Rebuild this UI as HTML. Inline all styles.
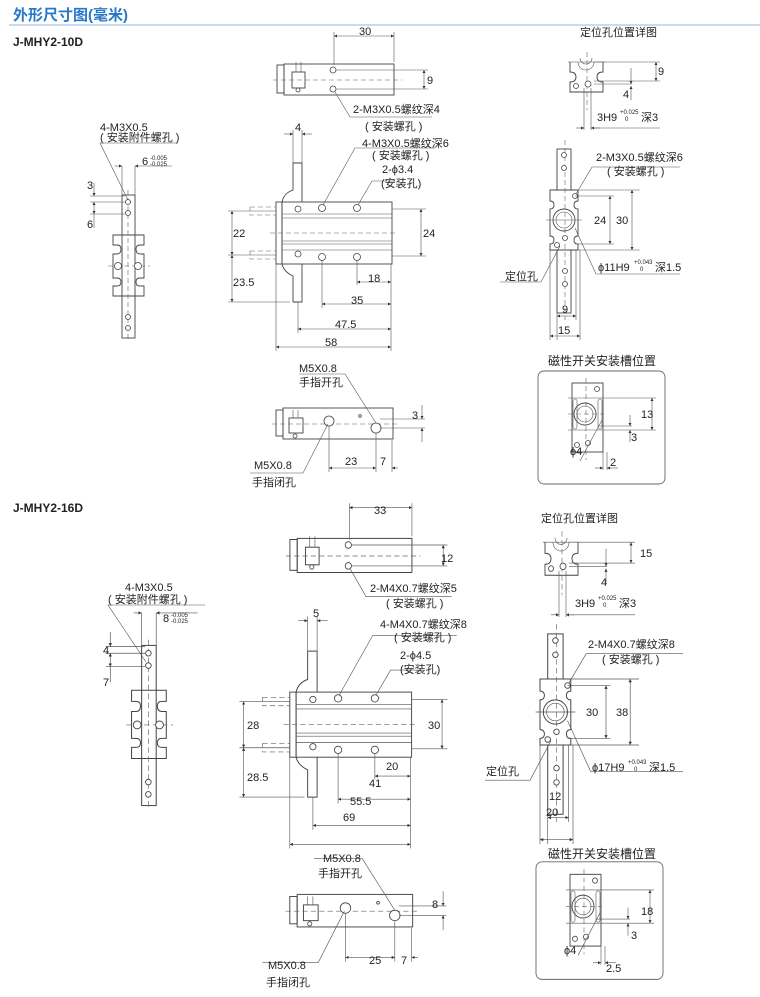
<!DOCTYPE html>
<html><head><meta charset="utf-8">
<style>
html,body{margin:0;padding:0;background:#fff;}
svg{display:block;}
text{font-family:"Liberation Sans","Noto Sans CJK SC",sans-serif;fill:#222;font-size:11px;}
.o{fill:none;stroke:#444;stroke-width:0.9;}
.d{fill:none;stroke:#555;stroke-width:0.6;}
.c{fill:none;stroke:#666;stroke-width:0.6;stroke-dasharray:5 3;}
.h{fill:#fff;stroke:#444;stroke-width:0.8;}
.sm{font-size:6px;}
</style></head><body>
<svg width="760" height="997" viewBox="0 0 760 997" xmlns="http://www.w3.org/2000/svg">
<defs>
<marker id="a" viewBox="0 0 6 6" refX="6" refY="3" markerWidth="5" markerHeight="5" orient="auto-start-reverse"><path d="M0,0L6,3L0,6z" fill="#333"/></marker>

<g id="A">
<rect class="o" x="277" y="65" width="7" height="28"/>
<rect class="o" x="284" y="64" width="110" height="31"/>
<rect class="o" x="292" y="72" width="13" height="16"/>
<line class="d" x1="296" y1="62" x2="296" y2="72"/><line class="d" x1="301" y1="62" x2="301" y2="72"/>
<line class="c" x1="273" y1="80" x2="402" y2="80"/>
<circle class="h" cx="333" cy="70" r="3"/><circle class="h" cx="333" cy="89" r="3"/><circle class="h" cx="298" cy="90" r="2"/>
<line class="d" x1="334" y1="32" x2="334" y2="65"/><line class="d" x1="394" y1="32" x2="394" y2="62"/>
<line class="d" x1="334" y1="36" x2="394" y2="36" marker-start="url(#a)" marker-end="url(#a)"/>
<line class="d" x1="336" y1="70" x2="428" y2="70"/><line class="d" x1="336" y1="89" x2="428" y2="89"/>
<line class="d" x1="424" y1="70" x2="424" y2="89" marker-start="url(#a)" marker-end="url(#a)"/>
<polyline class="d" points="335,92 350,117 432,117"/>
</g>

<g id="B">
<rect class="o" x="276" y="202" width="6" height="62"/>
<rect class="o" x="282" y="202" width="110" height="62"/>
<line class="d" x1="282" y1="214" x2="392" y2="214"/><line class="d" x1="282" y1="218" x2="392" y2="218"/>
<line class="d" x1="282" y1="241" x2="392" y2="241"/><line class="d" x1="282" y1="244" x2="392" y2="244"/><line class="d" x1="282" y1="250" x2="392" y2="250"/>
<path class="o" d="M293,163 L302,163 L302,202 M293,163 L293,190 Q284,193 282,202"/>
<path class="o" d="M302,264 L302,302 L293,302 L293,276 Q284,272 282,264"/>
<rect class="c" x="250" y="207" width="26" height="8"/><rect class="c" x="250" y="251" width="26" height="8"/>
<line class="c" x1="270" y1="233" x2="398" y2="233"/>
<circle class="h" cx="298" cy="209" r="3"/><circle class="h" cx="322" cy="208" r="3.5"/><circle class="h" cx="357" cy="208" r="3.5"/>
<circle class="h" cx="298" cy="254" r="3"/><circle class="h" cx="322" cy="257" r="3.5"/><circle class="h" cx="357" cy="257" r="3.5"/>
<line class="d" x1="293" y1="130" x2="293" y2="163"/><line class="d" x1="302" y1="130" x2="302" y2="163"/>
<line class="d" x1="284" y1="134" x2="293" y2="134" marker-end="url(#a)"/><line class="d" x1="312" y1="134" x2="302" y2="134" marker-end="url(#a)"/>
<line class="d" x1="228" y1="211" x2="276" y2="211"/><line class="d" x1="228" y1="255" x2="276" y2="255"/><line class="d" x1="228" y1="302" x2="290" y2="302"/>
<line class="d" x1="232" y1="211" x2="232" y2="255" marker-start="url(#a)" marker-end="url(#a)"/>
<line class="d" x1="232" y1="255" x2="232" y2="302" marker-start="url(#a)" marker-end="url(#a)"/>
<line class="d" x1="392" y1="209" x2="426" y2="209"/><line class="d" x1="392" y1="256" x2="426" y2="256"/>
<line class="d" x1="421" y1="209" x2="421" y2="256" marker-start="url(#a)" marker-end="url(#a)"/>
<line class="d" x1="357" y1="260" x2="357" y2="285"/><line class="d" x1="322" y1="260" x2="322" y2="308"/><line class="d" x1="298" y1="302" x2="298" y2="333"/><line class="d" x1="276" y1="264" x2="276" y2="351"/><line class="d" x1="391" y1="264" x2="391" y2="351"/>
<line class="d" x1="357" y1="282" x2="391" y2="282" marker-start="url(#a)" marker-end="url(#a)"/>
<line class="d" x1="322" y1="304" x2="391" y2="304" marker-start="url(#a)" marker-end="url(#a)"/>
<line class="d" x1="298" y1="329" x2="391" y2="329" marker-start="url(#a)" marker-end="url(#a)"/>
<line class="d" x1="276" y1="347" x2="391" y2="347" marker-start="url(#a)" marker-end="url(#a)"/>
<polyline class="d" points="323,205 355,148 435,148"/>
<polyline class="d" points="358,205 372,181 395,181"/>
</g>

<g id="C">
<rect class="o" x="122" y="195" width="13" height="143"/>
<path class="o" d="M113,235 H144 V245 H140 Q136,245 136,249 Q136,254 140,254 H144 V278 H140 Q136,278 136,282 Q136,286 140,286 H144 V296 H113 V286 H117 Q121,286 121,282 Q121,278 117,278 H113 V254 H117 Q121,254 121,249 Q121,245 117,245 H113 Z"/>
<line class="c" x1="128" y1="190" x2="128" y2="342"/>
<line class="c" x1="108" y1="266" x2="150" y2="266"/>
<circle class="h" cx="128" cy="202" r="2.5"/><circle class="h" cx="128" cy="213" r="2.5"/>
<circle class="h" cx="118" cy="266" r="3.5"/><circle class="h" cx="138" cy="266" r="3.5"/>
<circle class="h" cx="128" cy="317" r="2.5"/><circle class="h" cx="128" cy="328" r="2.5"/>
<line class="d" x1="122" y1="166" x2="122" y2="195"/><line class="d" x1="135" y1="166" x2="135" y2="195"/>
<line class="d" x1="115" y1="166" x2="122" y2="166" marker-end="url(#a)"/><line class="d" x1="172" y1="166" x2="135" y2="166" marker-end="url(#a)"/>
<line class="d" x1="90" y1="196" x2="125" y2="196"/><line class="d" x1="90" y1="202" x2="125" y2="202"/><line class="d" x1="90" y1="214" x2="125" y2="214"/>
<line class="d" x1="94" y1="183" x2="94" y2="196" marker-end="url(#a)"/><line class="d" x1="94" y1="202" x2="94" y2="214" marker-start="url(#a)" marker-end="url(#a)"/><line class="d" x1="94" y1="214" x2="94" y2="228"/>
</g>

<g id="D">
<rect class="o" x="276" y="410" width="7" height="26"/>
<rect class="o" x="283" y="408" width="110" height="31"/>
<rect class="o" x="289" y="418" width="14" height="15"/>
<line class="d" x1="293" y1="410" x2="293" y2="418"/><line class="d" x1="298" y1="410" x2="298" y2="418"/><circle class="h" cx="295" cy="436" r="2"/>
<line class="c" x1="272" y1="424" x2="398" y2="424"/>
<circle class="h" cx="329" cy="421" r="5"/><circle class="h" cx="376" cy="428" r="5"/><circle class="h" cx="360" cy="416" r="1.3"/>
<line class="d" x1="380" y1="419" x2="425" y2="419"/><line class="d" x1="380" y1="428" x2="425" y2="428"/>
<line class="d" x1="422" y1="405" x2="422" y2="419" marker-end="url(#a)"/><line class="d" x1="422" y1="442" x2="422" y2="428" marker-end="url(#a)"/>
<line class="d" x1="329" y1="426" x2="329" y2="472"/><line class="d" x1="376" y1="433" x2="376" y2="472"/><line class="d" x1="392" y1="440" x2="392" y2="472"/>
<line class="d" x1="329" y1="468" x2="376" y2="468" marker-start="url(#a)" marker-end="url(#a)"/>
<line class="d" x1="398" y1="468" x2="392" y2="468" marker-end="url(#a)"/>
<polyline class="d" points="299,374 345,374 376,423"/>
<polyline class="d" points="250,473 303,473 328,424"/>
</g>

<g id="E">
<path class="o" d="M570,62 V72 Q576,72 576,77 Q576,82 570,82 V92 H603 V82 Q597,82 597,77 Q597,72 603,72 V62"/>
<line class="d" x1="568" y1="62" x2="605" y2="62"/>
<path class="d" d="M578,62 A8,8 0 0 0 594,62"/><path class="d" d="M580,58 A6,6 0 0 0 592,58"/>
<line class="c" x1="587" y1="52" x2="587" y2="110"/>
<circle class="h" cx="576" cy="86" r="2.5"/><circle class="h" cx="588" cy="84" r="3"/>
<line class="d" x1="584" y1="88" x2="584" y2="130"/><line class="d" x1="591" y1="88" x2="591" y2="130"/>
<line class="d" x1="576" y1="128" x2="584" y2="128" marker-end="url(#a)"/><line class="d" x1="600" y1="128" x2="591" y2="128" marker-end="url(#a)"/><line class="d" x1="591" y1="128" x2="660" y2="128"/>
<line class="d" x1="594" y1="62" x2="660" y2="62"/><line class="d" x1="594" y1="81" x2="660" y2="81"/><line class="d" x1="594" y1="84" x2="632" y2="84"/>
<line class="d" x1="656" y1="62" x2="656" y2="81" marker-start="url(#a)" marker-end="url(#a)"/>
<line class="d" x1="631" y1="68" x2="631" y2="84" marker-end="url(#a)"/><line class="d" x1="631" y1="100" x2="631" y2="86" marker-end="url(#a)"/>
</g>

<g id="F">
<rect class="o" x="557" y="149" width="14" height="41"/>
<rect class="o" x="557" y="250" width="14" height="63"/>
<path class="o" d="M550,190 H578 V201 Q574,201 574,205 Q574,209 578,209 V236 Q574,236 574,240 Q574,244 578,244 V250 H550 V244 Q554,244 554,240 Q554,236 550,236 V209 Q554,209 554,205 Q554,201 550,201 Z"/>
<circle class="o" cx="564" cy="220" r="11"/><circle class="d" cx="564" cy="220" r="8"/>
<line class="c" x1="565" y1="140" x2="565" y2="320"/><line class="d" x1="546" y1="220" x2="582" y2="220"/>
<circle class="h" cx="564" cy="155" r="2.5"/><circle class="h" cx="564" cy="168" r="2.5"/>
<circle class="h" cx="575" cy="196" r="2.5"/><circle class="h" cx="557" cy="245" r="2.5"/><circle class="h" cx="565" cy="238" r="2.5"/>
<circle class="h" cx="565" cy="271" r="2.5"/><circle class="h" cx="565" cy="284" r="2.5"/>
<line class="d" x1="578" y1="190" x2="640" y2="190"/><line class="d" x1="578" y1="250" x2="640" y2="250"/><line class="d" x1="575" y1="196" x2="614" y2="196"/><line class="d" x1="575" y1="244" x2="614" y2="244"/>
<line class="d" x1="610" y1="196" x2="610" y2="244" marker-start="url(#a)" marker-end="url(#a)"/>
<line class="d" x1="632" y1="190" x2="632" y2="250" marker-start="url(#a)" marker-end="url(#a)"/>
<polyline class="d" points="576,194 592,167 680,167"/>
<polyline class="d" points="575,228 596,274 680,274"/>
<polyline class="d" points="560,246 541,282 500,282"/>
<line class="d" x1="557" y1="313" x2="557" y2="340"/><line class="d" x1="576" y1="250" x2="576" y2="320"/><line class="d" x1="550" y1="250" x2="550" y2="340"/><line class="d" x1="580" y1="250" x2="580" y2="340"/>
<line class="d" x1="557" y1="316" x2="576" y2="316" marker-start="url(#a)" marker-end="url(#a)"/>
<line class="d" x1="550" y1="336" x2="580" y2="336" marker-start="url(#a)" marker-end="url(#a)"/>
</g>

<g id="G">
<rect x="538" y="371" width="127" height="113" rx="6" fill="none" stroke="#666" stroke-width="0.9"/>
<rect class="o" x="572" y="383" width="31" height="69"/>
<circle class="o" cx="585" cy="414" r="11"/><circle class="d" cx="585" cy="414" r="8"/>
<rect class="d" x="573" y="399" width="4" height="30" rx="2"/><rect class="d" x="598" y="399" width="4" height="30" rx="2"/>
<line class="c" x1="586" y1="378" x2="586" y2="460"/><line class="c" x1="568" y1="414" x2="604" y2="414"/>
<line class="d" x1="568" y1="398" x2="656" y2="398"/><line class="d" x1="568" y1="430" x2="656" y2="430"/><line class="d" x1="598" y1="426" x2="632" y2="426"/>
<circle class="h" cx="597" cy="389" r="2.5"/><circle class="h" cx="577" cy="445" r="2.5"/><circle class="h" cx="588" cy="443" r="2.5"/>
<line class="d" x1="652" y1="398" x2="652" y2="430" marker-start="url(#a)" marker-end="url(#a)"/>
<line class="d" x1="630" y1="415" x2="630" y2="426" marker-end="url(#a)"/><line class="d" x1="630" y1="442" x2="630" y2="430" marker-end="url(#a)"/>
<line class="d" x1="603" y1="452" x2="603" y2="470"/><line class="d" x1="607" y1="452" x2="607" y2="470"/>
<line class="d" x1="595" y1="468" x2="603" y2="468" marker-end="url(#a)"/><line class="d" x1="618" y1="468" x2="607" y2="468" marker-end="url(#a)"/>
<line class="d" x1="580" y1="461" x2="602" y2="420"/>
</g>
</defs>

<text x="13" y="20" style="font-size:15px;font-weight:bold;fill:#2878c8;">外形尺寸图(毫米)</text>
<line x1="9" y1="25" x2="760" y2="25" stroke="#8fb8e0" stroke-width="1"/>

<text x="13" y="46" style="font-size:12px;font-weight:bold;">J-MHY2-10D</text>
<use href="#A"/><use href="#B"/><use href="#C"/><use href="#D"/><use href="#E"/><use href="#F"/><use href="#G"/>
<polyline class="d" points="178,143 100,143 128,200"/>
<text x="359" y="35">30</text><text x="427" y="84">9</text>
<text x="353" y="113">2-M3X0.5螺纹深4</text><text x="365" y="130">( 安装螺孔 )</text>
<text x="295" y="131">4</text>
<text x="362" y="147">4-M3X0.5螺纹深6</text><text x="372" y="159">( 安装螺孔 )</text>
<text x="382" y="173">2-ϕ3.4</text><text x="381" y="187">(安装孔)</text>
<text x="233" y="237">22</text><text x="423" y="237">24</text><text x="233" y="286">23.5</text>
<text x="368" y="282">18</text><text x="351" y="304">35</text><text x="335" y="328">47.5</text><text x="325" y="346">58</text>
<text x="100" y="131">4-M3X0.5</text><text x="100" y="141">( 安装附件螺孔 )</text>
<text x="142" y="165">6</text><text x="150" y="160" class="sm">-0.005</text><text x="150" y="166" class="sm">-0.025</text>
<text x="87" y="189">3</text><text x="87" y="228">6</text>
<text x="299" y="372">M5X0.8</text><text x="299" y="386">手指开孔</text>
<text x="412" y="419">3</text><text x="345" y="465">23</text><text x="380" y="465">7</text>
<text x="254" y="469">M5X0.8</text><text x="252" y="486">手指闭孔</text>
<text x="580" y="36">定位孔位置详图</text>
<text x="658" y="75">9</text><text x="623" y="98">4</text>
<text x="597" y="121">3H9</text><text x="620" y="114" class="sm">+0.025</text><text x="625" y="121" class="sm">0</text><text x="641" y="121">深3</text>
<text x="596" y="161">2-M3X0.5螺纹深6</text><text x="607" y="175">( 安装螺孔 )</text>
<text x="594" y="224">24</text><text x="616" y="224">30</text>
<text x="505" y="280">定位孔</text>
<text x="598" y="271">ϕ11H9</text><text x="634" y="264" class="sm">+0.043</text><text x="640" y="271" class="sm">0</text><text x="655" y="271">深1.5</text>
<text x="562" y="313">9</text><text x="558" y="334">15</text>
<text x="548" y="365" style="font-size:12px;">磁性开关安装槽位置</text>
<text x="641" y="418">13</text><text x="631" y="441">3</text><text x="570" y="455">ϕ4</text><text x="610" y="466">2</text>

<text x="13" y="512" style="font-size:12px;font-weight:bold;">J-MHY2-16D</text>
<use href="#A" transform="translate(1,468) scale(1.043,1.1)"/>
<use href="#B" transform="translate(0,480) scale(1.05)"/>
<use href="#C" transform="translate(5,427) scale(1.12)"/>
<use href="#D" transform="translate(0,466) scale(1.05)"/>
<use href="#E" transform="translate(-25,474) scale(1,1.1)"/>
<use href="#F" transform="translate(-65,470) scale(1.1)"/>
<use href="#G" transform="translate(-2,476) scale(1,1.04)"/>
<polyline class="d" points="205,605 108,605 146,662"/>
<text x="374" y="514">33</text><text x="441" y="562">12</text>
<text x="370" y="592">2-M4X0.7螺纹深5</text><text x="386" y="607">( 安装螺孔 )</text>
<text x="313" y="617">5</text>
<text x="380" y="628">4-M4X0.7螺纹深8</text><text x="394" y="641">( 安装螺孔 )</text>
<text x="400" y="659">2-ϕ4.5</text><text x="400" y="673">(安装孔)</text>
<text x="247" y="729">28</text><text x="428" y="729">30</text><text x="247" y="781">28.5</text>
<text x="386" y="770">20</text><text x="369" y="787">41</text><text x="350" y="805">55.5</text><text x="343" y="821">69</text>
<text x="125" y="591">4-M3X0.5</text><text x="108" y="603">( 安装附件螺孔 )</text>
<text x="163" y="622">8</text><text x="171" y="617" class="sm">-0.005</text><text x="171" y="623" class="sm">-0.025</text>
<text x="103" y="654">4</text><text x="103" y="686">7</text>
<text x="323" y="862">M5X0.8</text><text x="318" y="877">手指开孔</text>
<text x="432" y="908">8</text><text x="369" y="964">25</text><text x="401" y="964">7</text>
<text x="268" y="969">M5X0.8</text><text x="266" y="986">手指闭孔</text>
<text x="541" y="522">定位孔位置详图</text>
<text x="640" y="557">15</text><text x="601" y="586">4</text>
<text x="575" y="607">3H9</text><text x="598" y="600" class="sm">+0.025</text><text x="603" y="607" class="sm">0</text><text x="619" y="607">深3</text>
<text x="588" y="648">2-M4X0.7螺纹深8</text><text x="602" y="663">( 安装螺孔 )</text>
<text x="586" y="716">30</text><text x="616" y="716">38</text>
<text x="486" y="775">定位孔</text>
<text x="592" y="771">ϕ17H9</text><text x="628" y="764" class="sm">+0.043</text><text x="634" y="771" class="sm">0</text><text x="649" y="771">深1.5</text>
<text x="549" y="800">12</text><text x="546" y="816">20</text>
<text x="548" y="858" style="font-size:12px;">磁性开关安装槽位置</text>
<text x="641" y="915">18</text><text x="631" y="939">3</text><text x="564" y="954">ϕ4</text><text x="606" y="972">2.5</text>
</svg>
</body></html>
